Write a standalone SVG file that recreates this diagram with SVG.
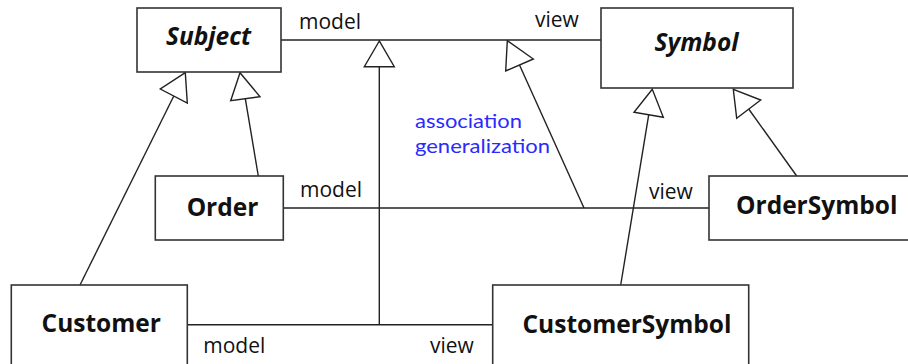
<svg xmlns="http://www.w3.org/2000/svg" width="908" height="364" viewBox="0 0 908 364">
<style>
.box{fill:#fff;stroke:#333;stroke-width:1.6}
.ln{fill:none;stroke:#222;stroke-width:1.4}
.tri{fill:#fff;stroke:#222;stroke-width:1.4;stroke-linejoin:miter}
.nm{font-family:"Open Sans","Noto Sans","Liberation Sans",sans-serif;font-weight:bold;font-size:24.5px;fill:#111;text-anchor:middle}
.it{font-style:italic}
.lb{font-family:"Open Sans","Noto Sans","Liberation Sans",sans-serif;font-size:21px;fill:#111}
.bl{font-family:"Lato","Noto Sans","Liberation Sans",sans-serif;font-size:20px;fill:#2a2aff}
</style>
<rect width="908" height="364" fill="#fff"/>
<g id="connectors">
<line class="ln" x1="281" y1="40" x2="601" y2="40"/>
<line class="ln" x1="283" y1="208" x2="709" y2="208"/>
<line class="ln" x1="188" y1="324.7" x2="493" y2="324.7"/>
<line class="ln" x1="379.3" y1="66.7" x2="379.3" y2="324.7"/>
<line class="ln" x1="584" y1="208" x2="519.5" y2="65"/>
<line class="ln" x1="80" y1="285" x2="173.8" y2="96"/>
<line class="ln" x1="258.3" y1="176" x2="245.3" y2="98.7"/>
<line class="ln" x1="620.7" y1="285" x2="648.7" y2="114.8"/>
<line class="ln" x1="796.7" y1="176" x2="748.7" y2="109"/>
<polygon class="tri" points="379.3,41 364.3,66.7 394.3,66.7"/>
<polygon class="tri" points="507.3,40.7 505.7,71 533.3,59"/>
<polygon class="tri" points="185.3,72.7 160.3,89 187.3,103"/>
<polygon class="tri" points="240,72.7 230.7,100.7 260,96.7"/>
<polygon class="tri" points="652.3,89.3 634,112.3 663.3,117.3"/>
<polygon class="tri" points="733.3,89.3 736.7,118.3 760.7,100"/>
<text class="lb" x="299" y="29">model</text>
<text class="lb" x="535" y="26.5">view</text>
<text class="lb" x="300" y="197">model</text>
<text class="lb" x="649" y="198.5">view</text>
<text class="lb" x="203.3" y="352.7">model</text>
<text class="lb" x="430" y="353">view</text>
<text class="bl" x="415" y="127.7" textLength="107" lengthAdjust="spacingAndGlyphs">association</text>
<text class="bl" x="415" y="153" textLength="135" lengthAdjust="spacingAndGlyphs">generalization</text>
</g>
<g id="Subject">
<rect class="box" x="137" y="8" width="144" height="64"/>
<text class="nm it" x="208.5" y="45">Subject</text>
</g>
<g id="Symbol">
<rect class="box" x="601" y="8" width="192" height="80"/>
<text class="nm it" x="696.5" y="50.5">Symbol</text>
</g>
<g id="Order">
<rect class="box" x="155.3" y="176" width="128" height="64"/>
<text class="nm" x="222.5" y="216">Order</text>
</g>
<g id="OrderSymbol">
<rect class="box" x="709" y="176" width="220" height="64"/>
<text class="nm" x="816.7" y="214">OrderSymbol</text>
</g>
<g id="Customer">
<rect class="box" x="11.3" y="285" width="176" height="100"/>
<text class="nm" x="101.2" y="332.3">Customer</text>
</g>
<g id="CustomerSymbol">
<rect class="box" x="492.7" y="285" width="256" height="100"/>
<text class="nm" x="627" y="333">CustomerSymbol</text>
</g>
</svg>
